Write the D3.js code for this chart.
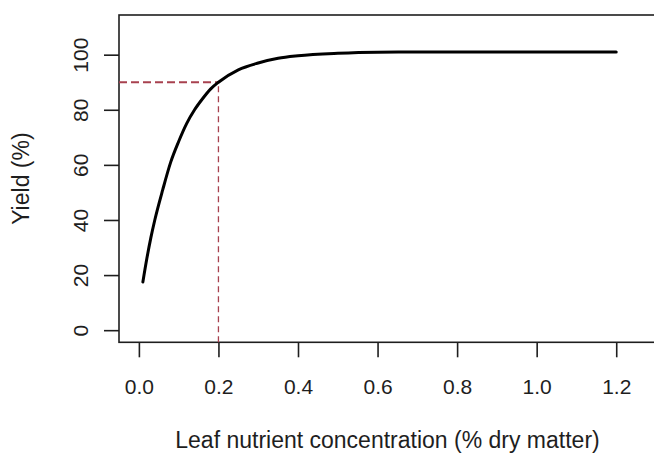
<html>
  <head>
    <meta charset="utf-8">
    <script src="https://d3js.org/d3.v7.min.js"></script>
    <style>
      body { margin: 0; background: #fff; }
      text { font-family: "Liberation Sans", Arial, sans-serif; fill: #1e1e1e; }
    </style>
  </head>
  <body>
    <svg width="654" height="454"></svg>
    <script>
      // curve
      var concentration = [0.01, 0.02, 0.03, 0.04, 0.06, 0.08, 0.10, 0.12, 0.14, 0.16, 0.18, 0.20,
                           0.25, 0.30, 0.35, 0.40, 0.50, 0.60, 0.80, 1.00, 1.20];
      var yieldPct = [17.5, 26, 33.5, 40, 51, 61, 68.5, 75, 80, 84, 87.5, 90,
                      94.5, 97, 98.7, 99.6, 100.5, 100.9, 101, 101, 101];
      var criticalX = 0.2, criticalY = 90;
      var xTicks = [0, 0.2, 0.4, 0.6, 0.8, 1.0, 1.2];
      var yTicks = [0, 20, 40, 60, 80, 100];

      function draw() {
        var svg = d3.select("svg");
        var pl = 119, pr = 656, pt = 15, pb = 342.3;

        var x = d3.scaleLinear().domain([-0.05, 1.30]).range([pl, pr]);
        var y = d3.scaleLinear().domain([-4.4, 114.4]).range([pb, pt]);

        var xAxis = svg.append("g")
            .attr("transform", "translate(0," + pb + ")")
            .call(d3.axisBottom(x).tickValues(xTicks).tickFormat(d3.format(".1f"))
                  .tickSize(15).tickSizeOuter(0));
        xAxis.select(".domain").remove();
        xAxis.selectAll("line").attr("stroke", "#1e1e1e").attr("stroke-width", 1.6);
        xAxis.selectAll("text").attr("y", 52).attr("dy", null)
            .attr("font-size", 21).attr("fill", "#1e1e1e");

        var yAxis = svg.append("g")
            .attr("transform", "translate(" + pl + ",0)")
            .call(d3.axisLeft(y).tickValues(yTicks).tickSize(15).tickSizeOuter(0));
        yAxis.select(".domain").remove();
        yAxis.selectAll("line").attr("stroke", "#1e1e1e").attr("stroke-width", 1.6);
        yAxis.selectAll("text")
            .attr("transform", "rotate(-90)")
            .attr("x", 0).attr("y", -31).attr("dy", null)
            .attr("text-anchor", "middle")
            .attr("font-size", 21).attr("fill", "#1e1e1e");

        // plot box
        svg.append("rect")
            .attr("x", pl).attr("y", pt)
            .attr("width", pr - pl).attr("height", pb - pt)
            .attr("fill", "none").attr("stroke", "#1e1e1e").attr("stroke-width", 1.6);

        // critical level guides
        svg.append("line")
            .attr("x1", pl).attr("x2", x(criticalX))
            .attr("y1", y(criticalY)).attr("y2", y(criticalY))
            .attr("stroke", "#a8414f").attr("stroke-width", 2)
            .attr("stroke-dasharray", "8,4");
        svg.append("line")
            .attr("x1", x(criticalX)).attr("x2", x(criticalX))
            .attr("y1", pb).attr("y2", y(criticalY))
            .attr("stroke", "#a8414f").attr("stroke-width", 1.3)
            .attr("stroke-dasharray", "6,4");

        var pts = concentration.map(function(c, i) { return [c, yieldPct[i]]; });
        var line = d3.line()
            .x(function(d) { return x(d[0]); })
            .y(function(d) { return y(d[1]); })
            .curve(d3.curveMonotoneX);
        svg.append("path")
            .datum(pts)
            .attr("d", line)
            .attr("fill", "none")
            .attr("stroke", "#000")
            .attr("stroke-width", 3)
            .attr("stroke-linecap", "round");

        svg.append("text")
            .attr("x", (pl + pr) / 2).attr("y", 448)
            .attr("text-anchor", "middle").attr("font-size", 23)
            .text("Leaf nutrient concentration (% dry matter)");

        svg.append("text")
            .attr("transform", "translate(29," + (pt + pb) / 2 + ") rotate(-90)")
            .attr("text-anchor", "middle").attr("font-size", 23)
            .text("Yield (%)");
      }
      draw();
    </script>
  </body>
</html>
